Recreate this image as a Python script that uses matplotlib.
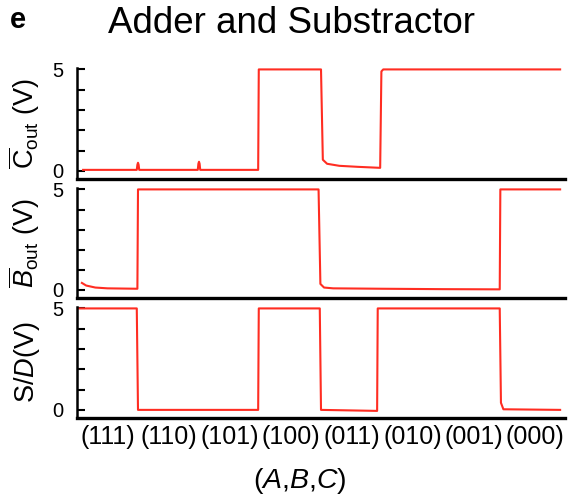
import numpy as np
import matplotlib
matplotlib.use("Agg")
import matplotlib.pyplot as plt

plt.rcParams['font.family'] = ['Liberation Sans', 'DejaVu Sans']
plt.rcParams['mathtext.fontset'] = 'custom'
plt.rcParams['mathtext.rm'] = 'Liberation Sans'
plt.rcParams['mathtext.it'] = 'Liberation Sans:italic'
plt.rcParams['mathtext.bf'] = 'Liberation Sans:bold'

# input states (A,B,C), one per time slot
states = ["(111)", "(110)", "(101)", "(100)", "(011)", "(010)", "(001)", "(000)"]

# traces (x in time slots, y in volts)
cout_x = [0.1, 0.98, 0.99, 1.0, 1.01, 1.02, 1.98, 1.99, 2.0, 2.01, 2.02, 2.97, 2.98,
          4.0, 4.03, 4.1, 4.3, 4.6, 4.97, 4.99, 5.02, 7.92]
cout_y = [0.05, 0.05, 0.3, 0.4, 0.3, 0.05, 0.05, 0.35, 0.45, 0.35, 0.05, 0.05, 5.0,
          5.0, 0.55, 0.35, 0.25, 0.2, 0.15, 4.9, 5.0, 5.0]

bout_x = [0.08, 0.15, 0.3, 0.5, 0.99, 1.0, 3.96, 3.99, 4.05, 4.2, 5.0, 6.0, 6.93, 6.94, 7.92]
bout_y = [0.35, 0.22, 0.12, 0.08, 0.06, 5.0, 5.0, 0.3, 0.12, 0.08, 0.06, 0.04, 0.03, 5.0, 5.0]

sd_x = [0.0, 0.98, 1.0, 2.97, 2.98, 3.98, 4.0, 4.92, 4.93, 6.93, 6.95, 6.99, 7.92]
sd_y = [5.0, 5.0, 0.0, 0.0, 5.0, 5.0, 0.0, -0.05, 5.0, 5.0, 0.35, 0.03, 0.0]

red = '#ff2d22'
W, H = 568, 497
fig = plt.figure(figsize=(W / 100, H / 100), dpi=100)

left = 77 / W
width = 488 / W
tops = [68, 188, 307]
bottoms = [179, 298, 418]

traces = [(cout_x, cout_y, r'$\overline{\mathrm{C}}_{\mathrm{out}}$ (V)'),
          (bout_x, bout_y, r'$\overline{B}_{\mathrm{out}}$ (V)'),
          (sd_x, sd_y, r'S/$D$(V)')]

axes = []
for (xs, ys, lab), t, b in zip(traces, tops, bottoms):
    ax = fig.add_axes([left, 1 - b / H, width, (b - t) / H])
    ax.plot(xs, ys, color=red, lw=1.5)
    ax.set_xlim(0, 8)
    ax.set_ylim(-0.4, 5.07)
    for s in ['top', 'right']:
        ax.spines[s].set_visible(False)
    ax.spines['left'].set_linewidth(1.8)
    ax.spines['bottom'].set_linewidth(2.4)
    ax.set_yticks([0, 1, 2, 3, 4, 5])
    ax.set_yticklabels(['0', '', '', '', '', '5'])
    ax.tick_params(axis='y', direction='in', length=6, width=1.5, labelsize=14.5, pad=10)
    ax.set_xticks([])
    ax.set_ylabel(lab, fontsize=19.5)
    ax.yaxis.set_label_coords(-0.072, 0.5)
    axes.append(ax)

ax3 = axes[-1]
ax3.set_xticks(np.arange(len(states)) + 0.5)
ax3.set_xticklabels(states, fontsize=18)
ax3.tick_params(axis='x', length=0, pad=5)
ax3.set_xlabel(r'($A$,$B$,$C$)', fontsize=20.5)
ax3.xaxis.set_label_coords((300 - 77) / 488, -0.43)

fig.text(292 / W, 1 - 33 / H, 'Adder and Substractor', fontsize=26.5,
         ha='center', va='baseline')
fig.text(10 / W, 1 - 28 / H, 'e', fontsize=21, fontweight='bold',
         ha='left', va='baseline')

fig.savefig('out.png', dpi=100)
